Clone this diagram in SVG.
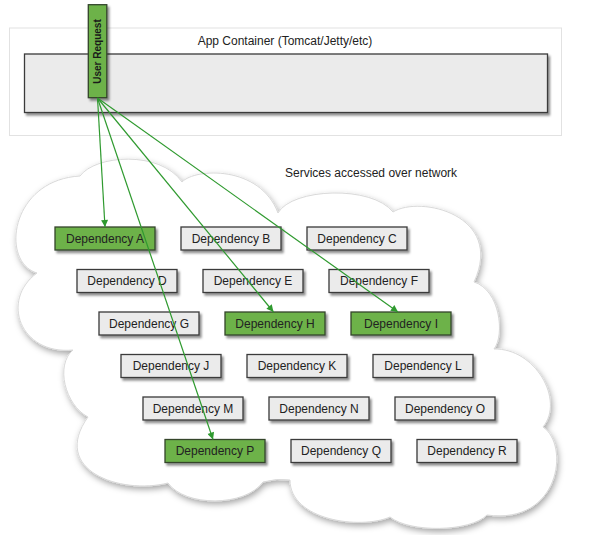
<svg xmlns="http://www.w3.org/2000/svg" width="591" height="535" viewBox="0 0 591 535">
<style>
text{font-family:"Liberation Sans",Arial,sans-serif;font-size:12px;fill:#222}
.dep text{text-anchor:middle}
.box{fill:#ebebeb;stroke:#3a3a3a;stroke-width:1.3}
.green{fill:#6db24a;stroke:#34452c;stroke-width:1.3}
.conn{stroke:#2f9a2f;stroke-width:1.2;fill:none}
</style>
<defs>
<filter id="sh" x="-20%" y="-20%" width="150%" height="160%">
<feDropShadow dx="2" dy="2.5" stdDeviation="1.3" flood-color="#000" flood-opacity="0.45"/>
</filter>
<filter id="csh" x="-10%" y="-10%" width="125%" height="125%">
<feDropShadow dx="1.5" dy="3" stdDeviation="3" flood-color="#000" flood-opacity="0.35"/>
</filter>
<marker id="arr" viewBox="0 0 10 10" refX="10" refY="5" markerWidth="9" markerHeight="7" markerUnits="userSpaceOnUse" orient="auto">
<path d="M0,0 L10,5 L0,10 z" fill="#2f9a2f"/>
</marker>
</defs>
<rect width="591" height="535" fill="#fff"/>
<g id="app-container">
<rect x="9.5" y="28" width="552" height="107.5" fill="#fff" stroke="#e2e2e2" stroke-width="1"/>
<text x="285" y="45" text-anchor="middle">App Container (Tomcat/Jetty/etc)</text>
<rect x="24.5" y="54" width="523" height="58.5" fill="#ebebeb" stroke="#3a3a3a" stroke-width="1.3" filter="url(#sh)"/>
</g>
<g id="cloud">
<path d="M73,350 C20,355 0,300 37,273 C0,262 10,180 80,176 C95,155 160,150 182,182 C195,168 260,165 278,213 C292,188 372,185 393,212 C420,195 505,215 474,282 C500,290 505,335 494,349 C535,348 565,400 543,427 C570,445 560,525 487,515 C470,532 410,533 390,517 C360,530 290,520 290,480 Q277,478 263,482 C245,507 185,507 168,483 C120,495 50,470 88,417 C65,405 55,365 73,350 Z" fill="#fff" stroke="#d9d9d9" stroke-width="1" filter="url(#csh)"/>
<text x="285" y="177">Services accessed over network</text>
</g>
<g id="user-request">
<rect x="88.3" y="4.7" width="18.5" height="93" class="green" filter="url(#sh)"/>
<text transform="translate(101.2,51.5) rotate(-90)" text-anchor="middle" style="font-size:10px;font-weight:bold;fill:#1a1a1a">User Request</text>
</g>
<g class="dep">
<g id="dep-a"><rect x="55" y="227" width="100" height="23" class="green" filter="url(#sh)"/><text x="105" y="242.5">Dependency A</text></g>
<g id="dep-b"><rect x="181" y="227" width="100" height="23" class="box" filter="url(#sh)"/><text x="231" y="242.5">Dependency B</text></g>
<g id="dep-c"><rect x="307" y="227" width="100" height="23" class="box" filter="url(#sh)"/><text x="357" y="242.5">Dependency C</text></g>
<g id="dep-d"><rect x="77" y="269.5" width="100" height="23" class="box" filter="url(#sh)"/><text x="127" y="285">Dependency D</text></g>
<g id="dep-e"><rect x="203" y="269.5" width="100" height="23" class="box" filter="url(#sh)"/><text x="253" y="285">Dependency E</text></g>
<g id="dep-f"><rect x="329" y="269.5" width="100" height="23" class="box" filter="url(#sh)"/><text x="379" y="285">Dependency F</text></g>
<g id="dep-g"><rect x="99" y="312" width="100" height="23" class="box" filter="url(#sh)"/><text x="149" y="327.5">Dependency G</text></g>
<g id="dep-h"><rect x="225" y="312" width="100" height="23" class="green" filter="url(#sh)"/><text x="275" y="327.5">Dependency H</text></g>
<g id="dep-i"><rect x="351" y="312" width="100" height="23" class="green" filter="url(#sh)"/><text x="401" y="327.5">Dependency I</text></g>
<g id="dep-j"><rect x="121" y="354.5" width="100" height="23" class="box" filter="url(#sh)"/><text x="171" y="370">Dependency J</text></g>
<g id="dep-k"><rect x="247" y="354.5" width="100" height="23" class="box" filter="url(#sh)"/><text x="297" y="370">Dependency K</text></g>
<g id="dep-l"><rect x="373" y="354.5" width="100" height="23" class="box" filter="url(#sh)"/><text x="423" y="370">Dependency L</text></g>
<g id="dep-m"><rect x="143" y="397" width="100" height="23" class="box" filter="url(#sh)"/><text x="193" y="412.5">Dependency M</text></g>
<g id="dep-n"><rect x="269" y="397" width="100" height="23" class="box" filter="url(#sh)"/><text x="319" y="412.5">Dependency N</text></g>
<g id="dep-o"><rect x="395" y="397" width="100" height="23" class="box" filter="url(#sh)"/><text x="445" y="412.5">Dependency O</text></g>
<g id="dep-p"><rect x="165" y="439.5" width="100" height="23" class="green" filter="url(#sh)"/><text x="215" y="455">Dependency P</text></g>
<g id="dep-q"><rect x="291" y="439.5" width="100" height="23" class="box" filter="url(#sh)"/><text x="341" y="455">Dependency Q</text></g>
<g id="dep-r"><rect x="417" y="439.5" width="100" height="23" class="box" filter="url(#sh)"/><text x="467" y="455">Dependency R</text></g>
</g>
<g id="connectors">
<line x1="97.5" y1="98" x2="105" y2="227" class="conn" marker-end="url(#arr)"/>
<line x1="97.5" y1="98" x2="273.5" y2="312" class="conn" marker-end="url(#arr)"/>
<line x1="97.5" y1="98" x2="398" y2="312" class="conn" marker-end="url(#arr)"/>
<line x1="97.5" y1="98" x2="213" y2="439.5" class="conn" marker-end="url(#arr)"/>
</g>
</svg>
